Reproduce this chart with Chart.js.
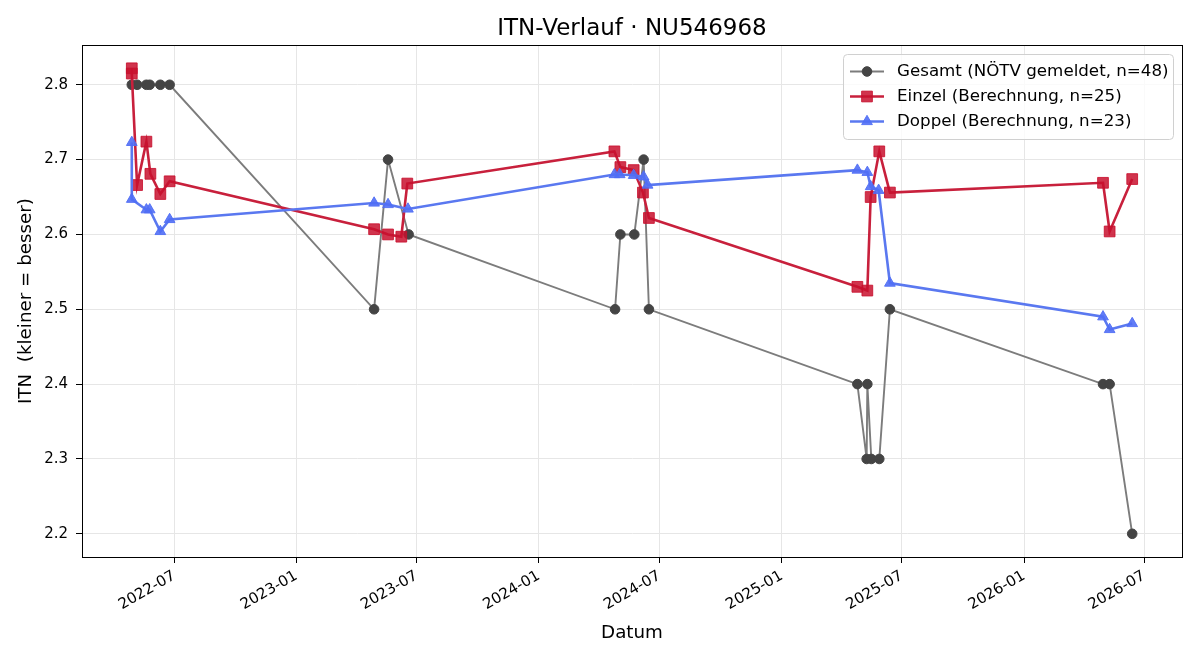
<!DOCTYPE html>
<html>
<head>
<meta charset="utf-8">
<script src="https://cdn.jsdelivr.net/npm/chart.js@4.4.1/dist/chart.umd.min.js"></script>
<style>
  html, body { margin: 0; padding: 0; background: #fff; }
  #wrap { width: 1200px; height: 660px; }
</style>
</head>
<body>
<div id="wrap"><canvas id="c" width="1200" height="660"></canvas></div>
<script>
// Daten
const gesamtDates = ["2022-04-28","2022-05-06","2022-05-20","2022-05-25","2022-06-10","2022-06-24",
  "2023-04-28","2023-05-19","2023-06-19",
  "2024-04-25","2024-05-03","2024-05-24","2024-06-07","2024-06-15",
  "2025-04-25","2025-05-09","2025-05-10","2025-05-16","2025-05-28","2025-06-13",
  "2026-04-30","2026-05-10","2026-06-13"];
const gesamtValues = [2.8,2.8,2.8,2.8,2.8,2.8, 2.5,2.7,2.6, 2.5,2.6,2.6,2.7,2.5,
  2.4,2.3,2.4,2.3,2.3,2.5, 2.4,2.4,2.2];

const einzelDates = ["2022-04-28","2022-04-28","2022-05-06","2022-05-20","2022-05-26","2022-06-10","2022-06-24",
  "2023-04-28","2023-05-19","2023-06-08","2023-06-17",
  "2024-04-24","2024-05-03","2024-05-23","2024-06-06","2024-06-15",
  "2025-04-25","2025-05-10","2025-05-15","2025-05-28","2025-06-13",
  "2026-04-30","2026-05-10","2026-06-13"];
const einzelValues = [2.822,2.815,2.666,2.724,2.681,2.654,2.671,
  2.607,2.600,2.597,2.668,
  2.711,2.690,2.686,2.656,2.622,
  2.530,2.525,2.650,2.711,2.656,
  2.669,2.604,2.674];

const doppelDates = ["2022-04-28","2022-04-28","2022-05-20","2022-05-25","2022-06-10","2022-06-24",
  "2023-04-28","2023-05-19","2023-06-18",
  "2024-04-24","2024-05-02","2024-05-23","2024-06-07","2024-06-13",
  "2025-04-25","2025-05-10","2025-05-15","2025-05-27","2025-06-13",
  "2026-04-30","2026-05-10","2026-06-13"];
const doppelValues = [2.723,2.647,2.633,2.633,2.604,2.620,
  2.642,2.640,2.634,
  2.680,2.680,2.679,2.677,2.666,
  2.686,2.683,2.664,2.659,2.535,
  2.490,2.473,2.481];

const xTickLabels = ["2022-07","2023-01","2023-07","2024-01","2024-07","2025-01","2025-07","2026-01","2026-07"];
const yTickValues = [2.2,2.3,2.4,2.5,2.6,2.7,2.8];
const xRange = ["2022-02-12","2026-08-27"];
const yRange = [2.169, 2.853];

const legendLabels = ["Gesamt (NÖTV gemeldet, n=48)","Einzel (Berechnung, n=25)","Doppel (Berechnung, n=23)"];

const FONT = "'DejaVu Sans', sans-serif";
const GRAY_LINE = "#7c7c7c", GRAY_PT = "#444444";
const RED = "#c8203c", RED_PT = "rgba(200,16,46,0.85)";
const BLUE = "#5a78f0", BLUE_PT = "rgba(80,110,245,0.9)";

const toDay = (s) => Date.UTC(+s.slice(0, 4), +s.slice(5, 7) - 1, +(s.slice(8, 10) || 1)) / 864e5;
const fromDay = (d) => new Date(d * 864e5).toISOString().slice(0, 7);
const pts = (dates, vals) => dates.map((d, i) => ({ x: toDay(d), y: vals[i] }));

// Rahmen oben/rechts + Legende im matplotlib-Stil
const framePlugin = {
  id: "frame",
  afterDatasetsDraw(chart) {
    const { ctx, chartArea: a } = chart;
    ctx.save();
    ctx.strokeStyle = "#000";
    ctx.lineWidth = 1;
    ctx.strokeRect(Math.round(a.left) + 0.5, Math.round(a.top) + 0.5,
      Math.round(a.right - a.left), Math.round(a.bottom - a.top));
    ctx.restore();
  },
  afterDraw(chart) {
    const { ctx } = chart;
    const x0 = 843, y0 = 54, w = 330, h = 85;
    ctx.save();
    ctx.beginPath();
    ctx.roundRect(x0 + 0.5, y0 + 0.5, w, h, 4);
    ctx.fillStyle = "rgba(255,255,255,0.8)";
    ctx.fill();
    ctx.strokeStyle = "#d0d0d0";
    ctx.lineWidth = 1;
    ctx.stroke();
    chart.data.datasets.forEach((ds, i) => {
      const y = y0 + 17.5 + i * 25;
      ctx.beginPath();
      ctx.moveTo(850, y);
      ctx.lineTo(884, y);
      ctx.strokeStyle = ds.borderColor;
      ctx.lineWidth = ds.borderWidth;
      ctx.stroke();
      ctx.fillStyle = ds.pointBackgroundColor;
      ctx.strokeStyle = ds.pointBorderColor;
      ctx.lineWidth = 1;
      Chart.helpers.drawPoint(ctx, {
        pointStyle: ds.pointStyle, radius: ds.pointRadius, borderWidth: 1, rotation: 0
      }, 867, y);
      ctx.fillStyle = "#000";
      ctx.font = "16.7px " + FONT;
      ctx.textBaseline = "middle";
      ctx.textAlign = "left";
      ctx.fillText(legendLabels[i], 897, y + 0.5);
    });
    ctx.restore();
  }
};

new Chart(document.getElementById("c"), {
  type: "line",
  data: {
    datasets: [
      {
        label: legendLabels[0], data: pts(gesamtDates, gesamtValues), order: 3,
        borderColor: GRAY_LINE, borderWidth: 1.9,
        pointStyle: "circle", pointRadius: 4.8,
        pointBackgroundColor: GRAY_PT, pointBorderColor: GRAY_PT, pointBorderWidth: 1,
        tension: 0
      },
      {
        label: legendLabels[1], data: pts(einzelDates, einzelValues), order: 2,
        borderColor: RED, borderWidth: 2.6,
        pointStyle: "rect", pointRadius: 7.6,
        pointBackgroundColor: RED_PT, pointBorderColor: RED_PT, pointBorderWidth: 1,
        tension: 0
      },
      {
        label: legendLabels[2], data: pts(doppelDates, doppelValues), order: 1,
        borderColor: BLUE, borderWidth: 2.6,
        pointStyle: "triangle", pointRadius: 6.2,
        pointBackgroundColor: BLUE_PT, pointBorderColor: BLUE_PT, pointBorderWidth: 1,
        tension: 0
      }
    ]
  },
  options: {
    responsive: false, animation: false,
    layout: { padding: { left: 0, right: 18, top: 0, bottom: 0 } },
    plugins: {
      legend: { display: false },
      tooltip: { enabled: false },
      title: {
        display: true, text: "ITN-Verlauf · NU546968", fullSize: false,
        color: "#000", font: { family: FONT, size: 23, weight: "normal" },
        padding: { top: 15.5, bottom: 2 }
      }
    },
    scales: {
      x: {
        type: "linear",
        min: toDay(xRange[0]), max: toDay(xRange[1]),
        afterBuildTicks: (s) => { s.ticks = xTickLabels.map((t) => ({ value: toDay(t) })); },
        afterFit: (s) => { s.height = 103; },
        ticks: {
          color: "#000", font: { family: FONT, size: 15 }, padding: 4,
          autoSkip: false, minRotation: 30, maxRotation: 30,
          callback: (v) => fromDay(v)
        },
        grid: { color: "#e6e6e6", lineWidth: 1, tickColor: "#000", tickLength: 6 },
        border: { color: "#000", width: 1 },
        title: { display: true, text: "Datum", color: "#000", font: { family: FONT, size: 18.3 }, padding: { top: 0, bottom: 16 } }
      },
      y: {
        min: yRange[0], max: yRange[1],
        afterBuildTicks: (s) => { s.ticks = yTickValues.map((v) => ({ value: v })); },
        afterFit: (s) => { s.width = 82; },
        ticks: { color: "#000", font: { family: FONT, size: 15 }, padding: 8, callback: (v) => v.toFixed(1) },
        grid: { color: "#e6e6e6", lineWidth: 1, tickColor: "#000", tickLength: 6 },
        border: { color: "#000", width: 1 },
        title: { display: true, text: "ITN  (kleiner = besser)", color: "#000", font: { family: FONT, size: 18.3 }, padding: { top: 15, bottom: 0 } }
      }
    }
  },
  plugins: [framePlugin]
});
</script>
</body>
</html>
